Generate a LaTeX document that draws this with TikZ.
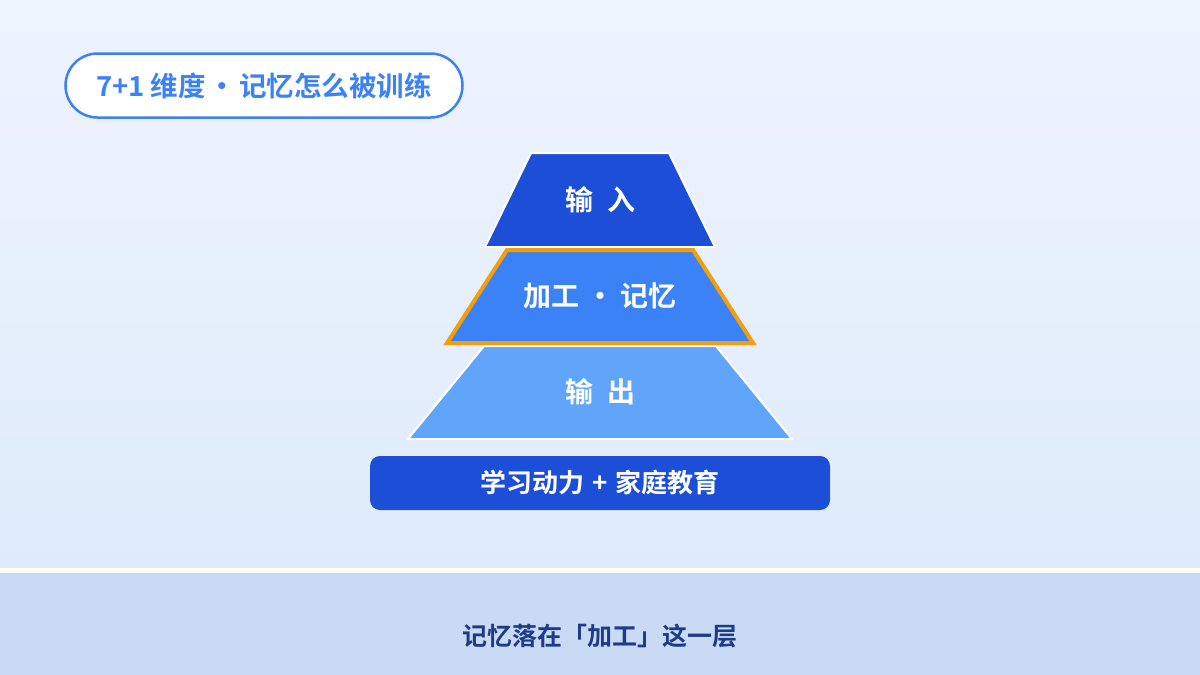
\documentclass[tikz,border=0pt]{standalone}
\usepackage{fontspec}
\setmainfont{Noto Sans CJK SC}[BoldFont={* Bold}]
\newfontfamily\cjkb{Noto Sans CJK SC Bold}
\definecolor{bgtop}{HTML}{EEF4FE}
\definecolor{bgbot}{HTML}{DFEBFB}
\definecolor{band}{HTML}{C9DBF4}
\definecolor{blueA}{HTML}{1D4ED8}
\definecolor{blueB}{HTML}{3B82F6}
\definecolor{blueC}{HTML}{60A5FA}
\definecolor{orangeA}{HTML}{F59E0B}
\definecolor{navy}{HTML}{1E3A8A}
\tikzset{
  layer/.style={draw=white, line width=2pt, line join=miter},
  hilite/.style={draw=orangeA, line width=4pt, line join=miter},
  lbl/.style={text=white, font=\cjkb\fontsize{28}{32}\selectfont, inner sep=0pt},
}
\begin{document}
\begin{tikzpicture}[x=1pt,y=-1pt]
\useasboundingbox (0,0) rectangle (1200,675);
\shade[top color=bgtop, bottom color=bgbot] (0,0) rectangle (1200,570);
\fill[white] (0,568) rectangle (1200,573);
\fill[band] (0,573) rectangle (1200,675);
% title pill
\node (title) [draw=blueB, line width=2.5pt, fill=white, rounded corners=32pt,
  minimum width=397pt, minimum height=64pt, text=blueB,
  font=\cjkb\fontsize{27.5}{32}\selectfont] at (264,85.5) {7+1 维度\hspace{3pt}•\hspace{3pt}记忆怎么被训练};
% layer 1
\fill[blueA, layer] (531,153) -- (669,153) -- (715,247) -- (485,247) -- cycle;
\node (in) [lbl] at (600,200) {输\hspace{14pt}入};
% layer 3
\fill[blueC, layer] (484,346) -- (716,346) -- (792,439) -- (408,439) -- cycle;
\node (out) [lbl] at (600,392) {输\hspace{14pt}出};
% layer 2
\fill[blueB, hilite] (507,250) -- (693,250) -- (753,343) -- (447,343) -- cycle;
\node (proc) [lbl] at (600,296) {加工 • 记忆};
% base
\node (base) [fill=blueA, rounded corners=10pt, minimum width=460pt, minimum height=54pt,
  text=white, font=\cjkb\fontsize{26}{30}\selectfont] at (600,483) {学习动力\hspace{8pt}+\hspace{8pt}家庭教育};
% bottom caption
\node (cap) [text=navy, font=\cjkb\fontsize{25}{30}\selectfont] at (600,636) {记忆落在「加工」这一层};
\end{tikzpicture}
\end{document}
